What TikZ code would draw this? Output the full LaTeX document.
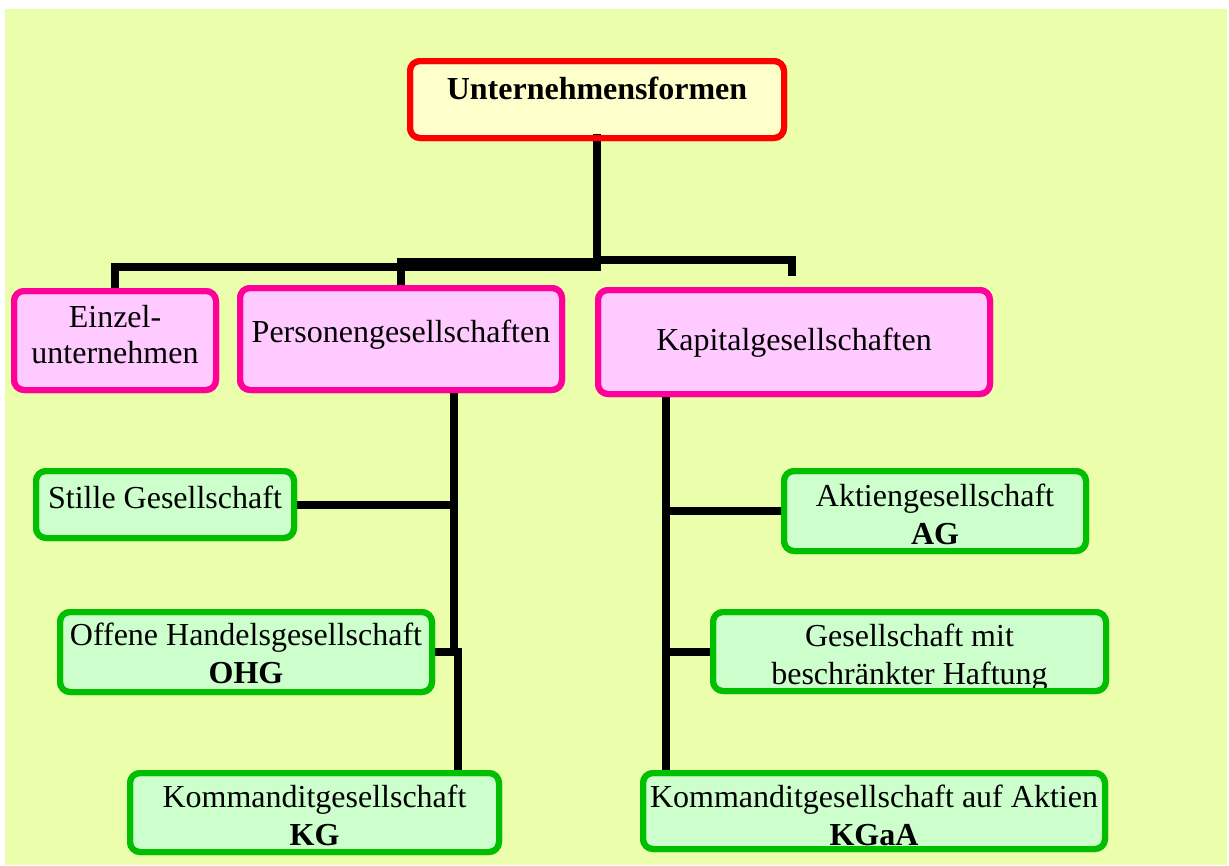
\documentclass[tikz,border=0pt]{standalone}
\usepackage{fontspec}
\setmainfont{Liberation Serif}
\usepackage{tikz}
\usetikzlibrary{positioning,calc}
\definecolor{bgyellow}{RGB}{234,254,172}
\definecolor{rootfill}{RGB}{255,255,204}
\definecolor{rootred}{RGB}{255,0,0}
\definecolor{pinkfill}{RGB}{255,202,255}
\definecolor{pinkline}{RGB}{255,0,153}
\definecolor{greenfill}{RGB}{204,255,204}
\definecolor{greenline}{RGB}{0,190,0}
\tikzset{
  rootbox/.style={
    draw=rootred,
    fill=rootfill,
    line width=6pt,
    rounded corners=10pt,
    align=flush center,
    font=\fontsize{32}{38}\selectfont\bfseries,
    inner sep=0pt,
    outer sep=0pt,
    anchor=base
  },
  formbox/.style={
    draw=pinkline,
    fill=pinkfill,
    line width=6pt,
    rounded corners=10pt,
    align=flush center,
    font=\fontsize{32}{36}\selectfont,
    inner sep=0pt,
    outer sep=0pt,
    anchor=base
  },
  typebox/.style={
    draw=greenline,
    fill=greenfill,
    line width=6pt,
    rounded corners=10pt,
    align=flush center,
    font=\fontsize{32}{38}\selectfont,
    inner sep=0pt,
    outer sep=0pt,
    anchor=base
  },
  rimred/.style={draw=rootred, line width=6pt, rounded corners=10pt},
  rimpink/.style={draw=pinkline, line width=6pt, rounded corners=10pt},
  rimgreen/.style={draw=greenline, line width=6pt, rounded corners=10pt},
  conn/.style={draw=black, line width=8pt}
}
\begin{document}
\begin{tikzpicture}[x=1pt,y=-1pt]
  \useasboundingbox (0,0) rectangle (1229,865);
  \fill[bgyellow] (5,9) rectangle (1227,865);

  % top level
  \node[rootbox,text width=374pt,text height=38pt,text depth=39pt] (top) at (597,99) {Unternehmensformen};

  % second level
  \node[formbox,text width=202pt,text height=36pt,text depth=63pt] (einzel) at (115,327) {Einzel-\\unternehmen};
  \node[formbox,text width=322pt,text height=54pt,text depth=48pt] (personen) at (401,342) {Personengesellschaften};
  \node[formbox,text width=392pt,text height=60pt,text depth=44pt] (kapital) at (794,350) {Kapitalgesellschaften};

  % Personengesellschaften
  \node[typebox,text width=258pt,text height=37pt,text depth=30pt] (stille) at (165,508) {Stille Gesellschaft};
  \node[typebox,text width=372pt,text height=33pt,text depth=47pt] (ohg) at (246,645) {Offene Handelsgesellschaft\\\textbf{OHG}};
  \node[typebox,text width=369pt,text height=34pt,text depth=45pt] (kg) at (314.5,807) {Kommanditgesellschaft\\\textbf{KG}};

  % Kapitalgesellschaften
  \node[typebox,text width=302pt,text height=35pt,text depth=45pt] (ag) at (935,506) {Aktiengesellschaft\\\textbf{AG}};
  \node[typebox,text width=393pt,text height=34pt,text depth=45pt] (gmbh) at (909.5,646) {Gesellschaft mit\\beschränkter Haftung};
  \node[typebox,text width=462pt,text height=34pt,text depth=42pt] (kgaa) at (874,807) {Kommanditgesellschaft auf Aktien\\\textbf{KGaA}};

  % connectors
  \coordinate (hub) at (597,267);
  \coordinate (kapend) at (792,276);
  \coordinate (pjoin) at (454,652);
  \coordinate (pjoin2) at (458,652);
  \coordinate (kx) at (666,400);
  \draw[conn,line cap=rect] (top.south) -- (hub);
  \draw[conn] (hub) -| (einzel.north);
  \draw[conn] ([yshift=5pt]hub) -| (personen.north);
  \draw[conn] ([yshift=7pt]hub) -| (kapend);
  \draw[conn] (personen.south -| pjoin) -- (pjoin);
  \draw[conn] (stille.east) -- (stille.east -| pjoin);
  \draw[conn] (ohg.east) -| (kg.north -| pjoin2);
  \draw[conn] (kapital.south -| kx) -- (kgaa.north -| kx);
  \draw[conn] (ag.west) -- (ag.west -| kx);
  \draw[conn] (gmbh.west) -- (gmbh.west -| kx);

  % rims over text and line ends
  \draw[rimred] (top.south west) rectangle (top.north east);
  \foreach \n in {einzel,personen,kapital}
    \draw[rimpink] (\n.south west) rectangle (\n.north east);
  \foreach \n in {stille,ohg,kg,ag,gmbh,kgaa}
    \draw[rimgreen] (\n.south west) rectangle (\n.north east);
\end{tikzpicture}
\end{document}
